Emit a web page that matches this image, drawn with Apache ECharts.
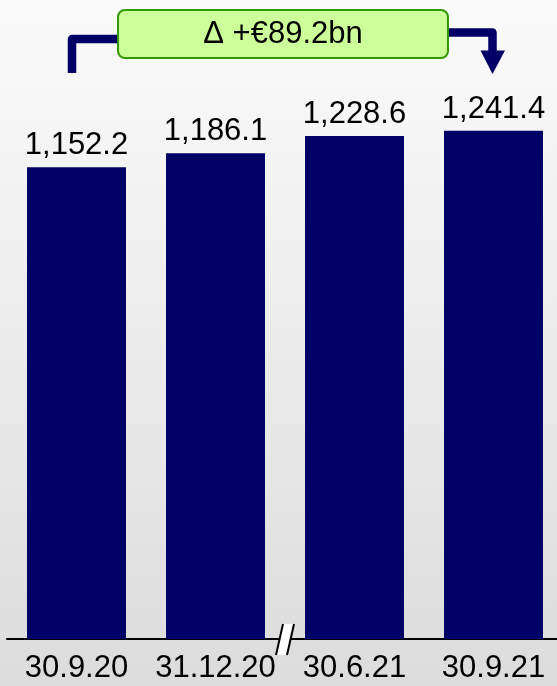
<!DOCTYPE html>
<html>
<head>
<meta charset="utf-8">
<script src="https://cdn.jsdelivr.net/npm/echarts@6/dist/echarts.min.js"></script>
<style>
  html, body { margin: 0; padding: 0; overflow: hidden; }
  #main { width: 570px; height: 686px; }
</style>
</head>
<body>
<div id="main"></div>
<script>
// data
var categories = ['30.9.20', '31.12.20', '30.6.21', '30.9.21'];
var values = [1152.2, 1186.1, 1228.6, 1241.4];
var breakAfter = 1; // axis break sits between these two dates

var navy = '#000066';
var font = '"Liberation Sans", Arial, sans-serif';

function fmt(v) {
  return v.toLocaleString('en-US', { minimumFractionDigits: 1, maximumFractionDigits: 1 });
}

var chart = echarts.init(document.getElementById('main'));

var option = {
  animation: false,
  backgroundColor: {
    type: 'linear', x: 0, y: 0, x2: 0, y2: 1,
    colorStops: [
      { offset: 0, color: '#fbfbfb' },
      { offset: 1, color: '#dcdcdc' }
    ]
  },
  grid: { left: 7, width: 556, top: 24.8, bottom: 47 },
  xAxis: {
    type: 'category',
    data: categories,
    axisLine: { lineStyle: { color: '#000', width: 2 } },
    axisTick: { show: false },
    axisLabel: { color: '#000', fontSize: 31, fontFamily: font, margin: 14, interval: 0 }
  },
  yAxis: {
    type: 'value',
    min: 0,
    max: 1500,
    show: false,
    splitLine: { show: false }
  },
  series: [
    {
      type: 'bar',
      data: values,
      barWidth: 99,
      itemStyle: { color: navy },
      label: {
        show: true,
        position: 'top',
        distance: 6,
        color: '#000',
        fontSize: 31,
        fontFamily: font,
        formatter: function (p) { return fmt(p.value); }
      }
    }
  ]
};
chart.setOption(option);

// annotation: delta box with connectors, anchored on first and last bar
var xFirst = chart.convertToPixel({ xAxisIndex: 0 }, 0);
var xLast = chart.convertToPixel({ xAxisIndex: 0 }, categories.length - 1);
var xMidA = chart.convertToPixel({ xAxisIndex: 0 }, breakAfter);
var xMidB = chart.convertToPixel({ xAxisIndex: 0 }, breakAfter + 1);
var yBase = chart.convertToPixel({ yAxisIndex: 0 }, 0);
var delta = values[values.length - 1] - values[0];
var deltaText = 'Δ +€' + delta.toFixed(1) + 'bn';

var boxL = 118, boxR = 448, boxT = 10, boxB = 58;
var lx = xFirst - 4.5;
var rx = xLast - 1;
var bx = (xMidA + xMidB) / 2;

chart.setOption({
  graphic: [
    {
      type: 'polyline',
      z: 10,
      shape: { points: [[lx, 73], [lx, 39], [boxL + 2, 39]] },
      style: { stroke: navy, lineWidth: 8.5, fill: null, lineJoin: 'round' }
    },
    {
      type: 'polyline',
      z: 10,
      shape: { points: [[boxR - 2, 32.5], [rx, 32.5], [rx, 52]] },
      style: { stroke: navy, lineWidth: 8.5, fill: null, lineJoin: 'round' }
    },
    {
      type: 'polygon',
      z: 10,
      shape: { points: [[rx - 12, 50.5], [rx + 12.5, 50.5], [rx, 74]] },
      style: { fill: navy }
    },
    {
      type: 'rect',
      z: 11,
      shape: { x: boxL, y: boxT, width: boxR - boxL, height: boxB - boxT, r: 7 },
      style: { fill: '#ccff99', stroke: '#339900', lineWidth: 2 }
    },
    {
      type: 'text',
      z: 12,
      x: (boxL + boxR) / 2,
      y: 34,
      style: {
        text: deltaText,
        fill: '#000',
        font: '31px ' + font,
        align: 'center',
        verticalAlign: 'middle'
      }
    },
    // axis break mark
    {
      type: 'polygon',
      z: 20,
      shape: { points: [[bx - 9, yBase + 16], [bx - 2, yBase - 15], [bx + 9, yBase - 15], [bx + 2, yBase + 16]] },
      style: { fill: '#fff' }
    },
    {
      type: 'line',
      z: 21,
      shape: { x1: bx - 9, y1: yBase + 16, x2: bx - 2, y2: yBase - 15 },
      style: { stroke: '#000', lineWidth: 2 }
    },
    {
      type: 'line',
      z: 21,
      shape: { x1: bx + 2, y1: yBase + 16, x2: bx + 9, y2: yBase - 15 },
      style: { stroke: '#000', lineWidth: 2 }
    }
  ]
});
</script>
</body>
</html>
